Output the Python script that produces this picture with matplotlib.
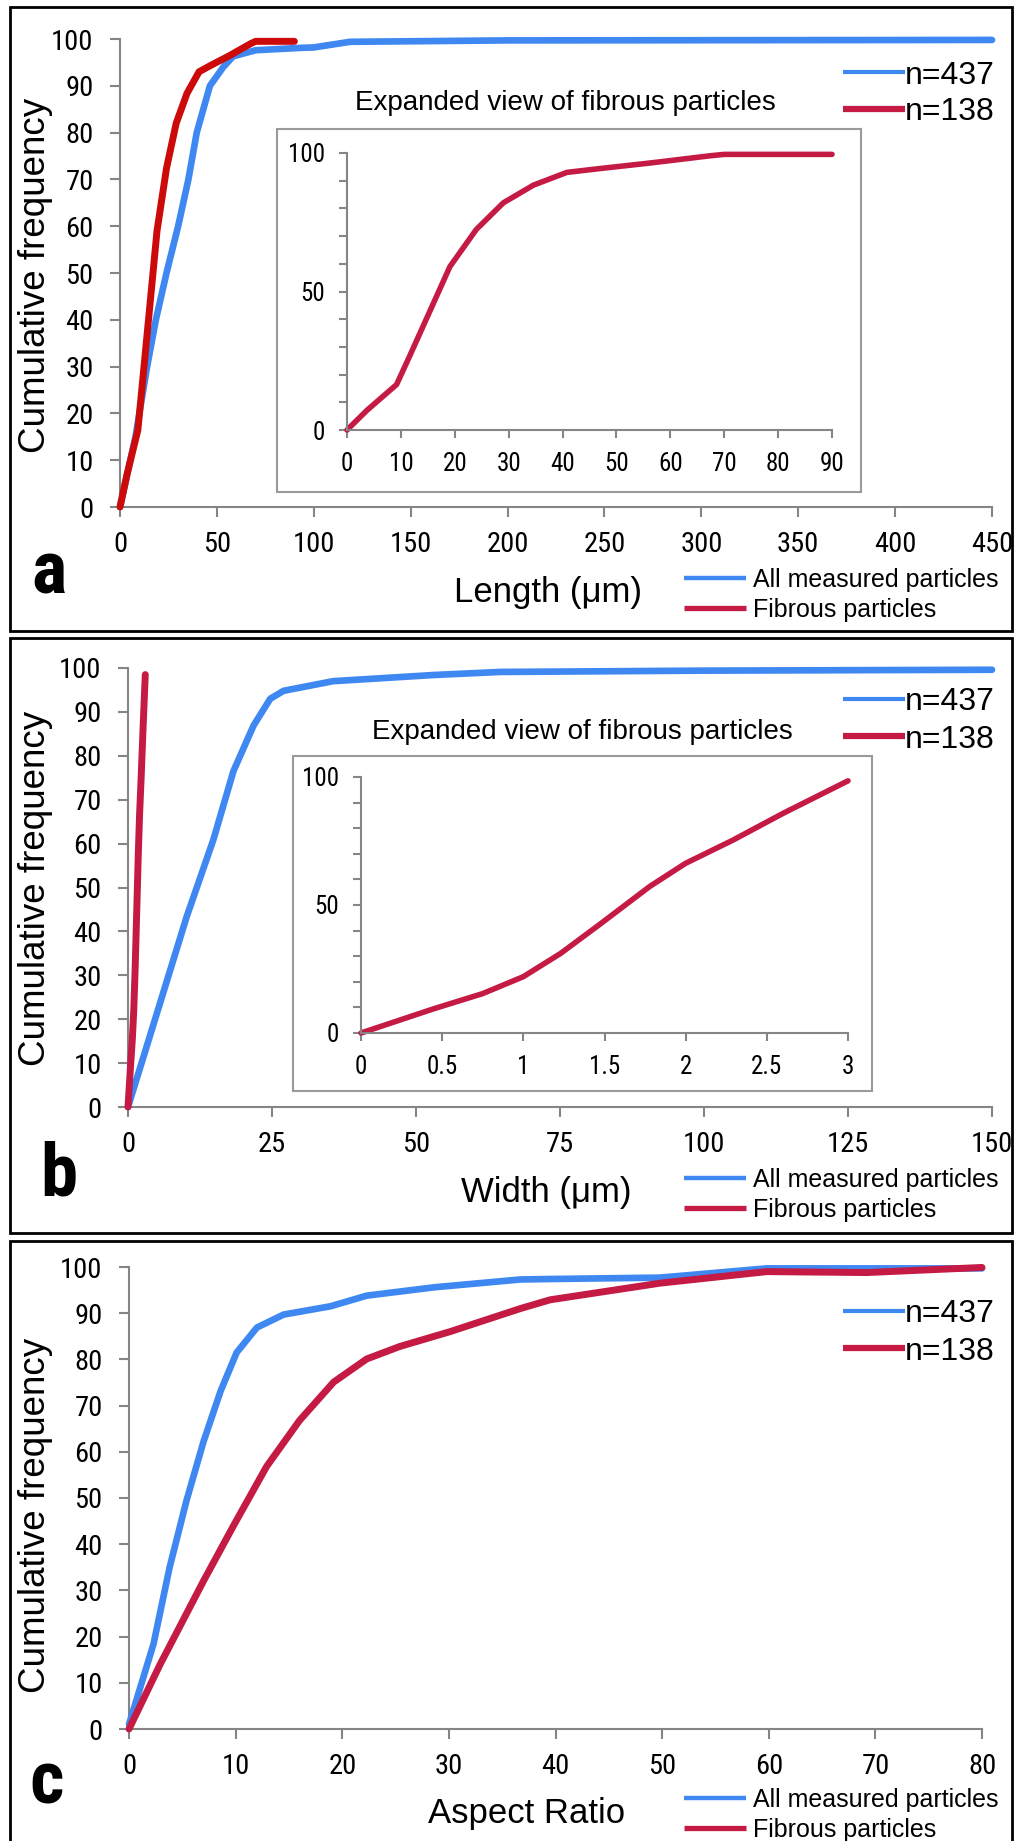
import matplotlib
matplotlib.use('Agg')
import matplotlib.pyplot as plt
from matplotlib import font_manager
from matplotlib.font_manager import FontProperties
from matplotlib.lines import Line2D
from matplotlib.patches import Rectangle
from matplotlib.ticker import MultipleLocator, FuncFormatter

W, H = 1016, 1841

# --- panel a: length ---
length_all_x = [0, 8, 14, 18.5, 24, 30, 35.3, 39.6, 46.4, 53.3, 58.4, 70, 92.9, 100, 118.7, 200, 450]
length_all_y = [0, 15, 30, 40, 50, 60, 70, 80, 90, 94, 96.3, 97.6, 98.1, 98.2, 99.4, 99.7, 99.8]
length_fib_x = [0, 3.7, 9.2, 11.7, 15.4, 19.1, 24, 29, 34.6, 40.8, 47, 56.3, 67.4, 70, 90]
length_fib_y = [0, 7.1, 16.4, 27, 43, 59, 72.4, 82, 88.4, 93, 94.4, 96.4, 99, 99.5, 99.5]

# --- panel b: width ---
width_all_x = [0, 10.2, 14.8, 18.3, 21.8, 24.7, 27, 35.6, 53, 64.6, 100, 150]
width_all_y = [0, 43.4, 60.8, 76.5, 86.9, 93, 94.8, 97, 98.4, 99.1, 99.4, 99.6]
width_fib_x = [0, 0.445, 0.75, 1.0, 1.23, 1.47, 1.78, 2.0, 2.29, 2.6, 3.0]
width_fib_y = [0, 9.4, 15.4, 22, 31.1, 42.4, 57.3, 66.3, 75.3, 85.8, 98.5]

# --- panel c: aspect ratio ---
ratio_all_x = [0, 2.3, 3.8, 5.4, 7.0, 8.6, 10.1, 12, 14.5, 18.9, 22.3, 28.6, 36.7, 39.5, 49.8, 59.8, 80]
ratio_all_y = [1, 18.4, 34.9, 49.5, 62.3, 73.2, 81.5, 86.9, 89.7, 91.5, 93.8, 95.6, 97.3, 97.4, 97.7, 99.7, 99.7]
ratio_fib_x = [0, 2.9, 7.0, 9.8, 12.9, 16.0, 19.2, 22.3, 25.4, 30.1, 36.7, 39.5, 49.8, 59.8, 69.2, 80]
ratio_fib_y = [0, 13.9, 32.1, 44, 56.8, 66.8, 75.1, 80.1, 82.8, 86, 91, 92.9, 96.5, 99, 98.8, 99.9]

count_labels = ['n=437', 'n=138']
series_labels = ['All measured particles', 'Fibrous particles']
inset_title = 'Expanded view of fibrous particles'
ylabel = 'Cumulative frequency'

BLUE = '#3f88f2'
RED_A = '#cc0a0a'
RED = '#c41a44'
GREY = '#858585'

_names = {f.name for f in font_manager.fontManager.ttflist}
SANS = 'Liberation Sans' if 'Liberation Sans' in _names else 'DejaVu Sans'


def find_narrow(bold=False):
    # look for any condensed / narrow face; tick labels in the figure are condensed
    prefs = ['liberation sans narrow', 'roboto condensed', 'dejavu sans', 'open sans condensed',
             'noto sans', 'inter', 'lato']
    found = []
    for f in font_manager.fontManager.ttflist:
        name = f.name.lower()
        stretch = str(f.stretch).lower()
        narrow = ('narrow' in name or 'condensed' in name or
                  stretch in ('condensed', 'semi-condensed', 'extra-condensed', '500', '600'))
        if not narrow or f.style != 'normal':
            continue
        w = f.weight if isinstance(f.weight, int) else {'bold': 700}.get(str(f.weight), 400)
        if (w >= 600) != bold:
            continue
        rank = next((i for i, p in enumerate(prefs) if name.startswith(p)), len(prefs))
        found.append((rank, abs(w - (700 if bold else 400)), f.fname))
    if not found:
        return None
    return sorted(found)[0][2]


_narrow_reg = find_narrow(False)
_narrow_bold = find_narrow(True)


def narrow_font(size, bold=False):
    path = _narrow_bold if bold else _narrow_reg
    if path:
        return FontProperties(fname=path, size=size)
    return FontProperties(family=SANS, size=size * 0.9, weight='bold' if bold else 'normal')


def box(x0, y0, x1, y1):
    return [x0 / W, 1 - y1 / H, (x1 - x0) / W, (y1 - y0) / H]


def fx(x):
    return x / W


def fy(y):
    return 1 - y / H


fig = plt.figure(figsize=(W / 100, H / 100), dpi=100)
fig.patch.set_facecolor('white')
all_axes = []


def style_axes(ax, xmax, xstep, size, ticklen, padx, pady):
    ax.set_xlim(0, xmax)
    ax.set_ylim(0, 100)
    ax.patch.set_alpha(0)
    for s in ('top', 'right'):
        ax.spines[s].set_visible(False)
    for s in ('left', 'bottom'):
        ax.spines[s].set_color(GREY)
        ax.spines[s].set_linewidth(1.5)
    ax.xaxis.set_major_locator(MultipleLocator(xstep))
    ax.xaxis.set_major_formatter(FuncFormatter(lambda v, p: f'{v:g}'))
    ax.tick_params(axis='both', which='both', direction='out', color=GREY,
                   width=1.5, length=ticklen)
    ax.tick_params(axis='x', pad=padx)
    ax.tick_params(axis='y', pad=pady)
    all_axes.append((ax, size))


def line(x0, x1, y, color, lw):
    fig.add_artist(Line2D([fx(x0), fx(x1)], [fy(y), fy(y)], transform=fig.transFigure,
                          color=color, lw=lw, solid_capstyle='butt'))


def text(x, y, s, size, **kw):
    kw.setdefault('family', SANS)
    fig.text(fx(x), fy(y), s, fontsize=size, **kw)


def panel(rect, xmax, xstep, all_x, all_y, fib_x, fib_y, red_main, top_dy, bot_dy,
          xlabel, xlabel_x, xlabel_base, letter, letter_x, letter_base, ylabel_y):
    ax = fig.add_axes(box(*rect))
    style_axes(ax, xmax, xstep, 20.5, 7, 10, 12)
    ax.yaxis.set_major_locator(MultipleLocator(10))
    ax.plot(all_x, all_y, color=BLUE, lw=4.8, clip_on=False,
            solid_capstyle='round', solid_joinstyle='round', zorder=3)
    ax.plot(fib_x, fib_y, color=red_main, lw=5.0, clip_on=False,
            solid_capstyle='round', solid_joinstyle='round', zorder=4)

    # legend with sample counts, top right
    line(843, 905, 72 + top_dy, BLUE, 3)
    line(843, 905, 109 + top_dy, RED, 4.5)
    text(905, 83.5 + top_dy, count_labels[0], 23, va='baseline')
    text(905, 120.5 + top_dy, count_labels[1], 23, va='baseline')

    # legend under the x axis
    line(684, 746, 578 + bot_dy, BLUE, 3.2)
    line(684, 746, 608 + bot_dy, RED, 3.8)
    text(753, 587 + bot_dy, series_labels[0], 18, va='baseline')
    text(753, 617 + bot_dy, series_labels[1], 18, va='baseline')

    text(xlabel_x, xlabel_base, xlabel, 25, ha='center', va='baseline')
    fig.text(fx(letter_x), fy(letter_base), letter, fontproperties=narrow_font(54, True),
             va='baseline')
    text(36, ylabel_y, ylabel, 26.5, rotation=90, ha='center', va='center')
    return ax


def inset(frame, rect, xmax, xstep, fib_x, fib_y, title_x, title_base):
    fig.add_artist(Rectangle((fx(frame[0]), fy(frame[3])), (frame[2] - frame[0]) / W,
                             (frame[3] - frame[1]) / H, transform=fig.transFigure,
                             facecolor='white', edgecolor='#9a9a9a', lw=1.5, zorder=5))
    ax = fig.add_axes(box(*rect))
    ax.set_zorder(6)
    style_axes(ax, xmax, xstep, 18, 6, 10, 10)
    ax.yaxis.set_major_locator(MultipleLocator(50))
    ax.yaxis.set_minor_locator(MultipleLocator(10))
    ax.plot(fib_x, fib_y, color=RED, lw=4.0, clip_on=False,
            solid_capstyle='round', solid_joinstyle='round')
    text(title_x, title_base, inset_title, 20, ha='center', va='baseline')


# panel frames
for y0, y1 in [(7, 631), (638, 1233), (1241, 1870)]:
    fig.add_artist(Rectangle((fx(10), fy(y1)), 1002 / W, (y1 - y0) / H,
                             transform=fig.transFigure, fill=False,
                             edgecolor='black', lw=2))

# a
panel((120, 39, 992, 507), 450, 50, length_all_x, length_all_y,
      length_fib_x, length_fib_y, RED_A, 0, 0,
      'Length (\u03bcm)', 548, 602, 'a', 31, 593, 275)
inset((277, 129.5, 861, 492), (347, 153, 832, 430), 90, 10,
      length_fib_x, length_fib_y, 565, 110)

# b
panel((128, 668, 992, 1107), 150, 25, width_all_x, width_all_y,
      width_fib_x, width_fib_y, RED, 627, 600,
      'Width (\u03bcm)', 546, 1202, 'b', 40, 1196, 888)
inset((293, 756, 872, 1091), (361, 777, 848, 1033), 3, 0.5,
      width_fib_x, width_fib_y, 582, 739)

# c
panel((129, 1267, 982, 1729), 80, 10, ratio_all_x, ratio_all_y,
      ratio_fib_x, ratio_fib_y, RED, 1239, 1220,
      'Aspect Ratio', 527, 1823, 'c', 29, 1804, 1515)

# condensed tick labels
for ax, size in all_axes:
    for lab in ax.get_xticklabels() + ax.get_yticklabels():
        lab.set_fontproperties(narrow_font(size))

fig.savefig('out.png', dpi=100, facecolor='white')
